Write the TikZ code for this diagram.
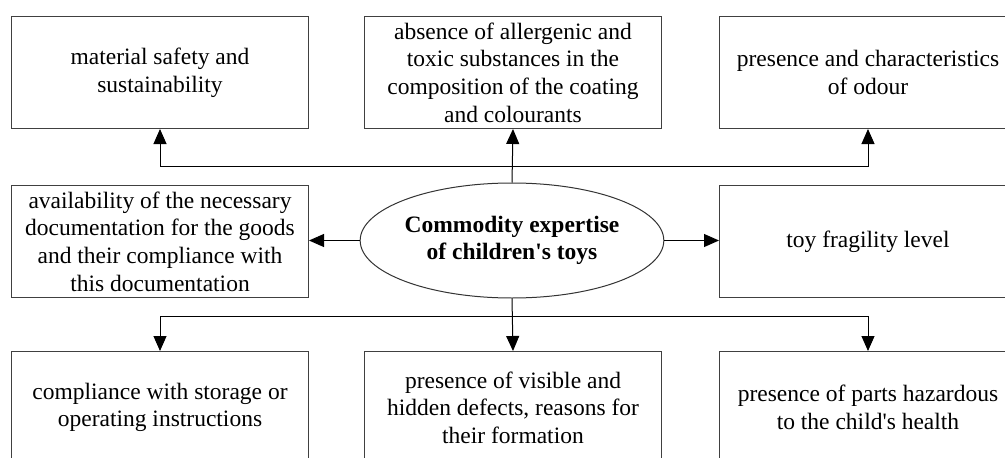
\documentclass[tikz,border=0pt]{standalone}
\usepackage{fontspec}
\setmainfont{Liberation Serif}
\usetikzlibrary{arrows.meta,shapes.geometric}

\tikzset{
  item/.style={draw=black!75, line width=1pt, minimum width=297pt,
    minimum height=112pt, align=center, inner sep=0pt, anchor=north west,
    font=\fontsize{23.5}{27.6}\selectfont},
  hub/.style={ellipse, draw=black!80, line width=1pt, minimum width=298pt,
    minimum height=115pt, inner sep=0pt, align=center,
    font=\fontsize{23.5}{27.6}\selectfont\bfseries},
  wire/.style={line width=1pt},
  link/.style={line width=1pt, -{Triangle[length=15pt,width=13pt]}}
}

\begin{document}
\begin{tikzpicture}[x=1pt,y=-1pt]
  \useasboundingbox (0,0) rectangle (1005,458);
  \clip (0,0) rectangle (1005,458);

  % top row
  \node[item] (t1) at (11,16)  {material safety and\\sustainability};
  \node[item] (t2) at (364,16) {absence of allergenic and\\toxic substances in the\\composition of the coating\\and colourants};
  \node[item] (t3) at (719,16) {presence and characteristics\\of odour};

  % middle row
  \node[item] (m1) at (11,185)  {availability of the necessary\\documentation for the goods\\and their compliance with\\this documentation};
  \node[hub]  (c)  at (512,240.5) {Commodity expertise\\of children\textquotesingle s toys};
  \node[item] (m3) at (719,185) {toy fragility level};

  % bottom row
  \node[item] (b1) at (11,351)  {compliance with storage or\\operating instructions};
  \node[item] (b2) at (364,351) {presence of visible and\\hidden defects, reasons for\\their formation};
  \node[item] (b3) at (719,351) {presence of parts hazardous\\to the child\textquotesingle s health};

  % upward branches
  \coordinate (tj) at (512,166);
  \draw[link] (c.north) -- (t2.south);
  \draw[link] (tj) -| (t1.south);
  \draw[link] (tj) -| (t3.south);

  % sideways branches
  \draw[link] (c.west) -- (c.west -| m1.east);
  \draw[link] (c.east) -- (c.east -| m3.west);

  % downward branches
  \coordinate (bj) at (512,316);
  \draw[link] (c.south) -- (b2.north);
  \draw[link] (bj) -| (b1.north);
  \draw[link] (bj) -| (b3.north);
\end{tikzpicture}
\end{document}
